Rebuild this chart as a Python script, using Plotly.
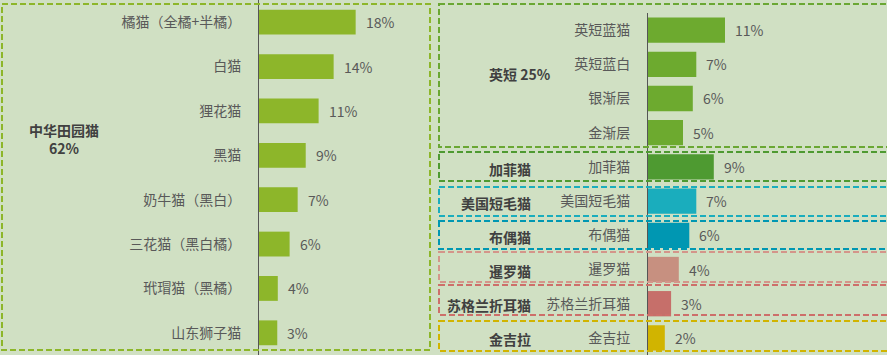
import plotly.graph_objects as go

W, H = 887, 355
FONT = "Noto Sans CJK SC, Noto Sans, sans-serif"
BG = "#D0E0C3"
TXT = "#595959"
BOLD = "#404040"

# ---- data: left panel (中华田园猫) ----
left_cats = ["橘猫（全橘+半橘）", "白猫", "狸花猫", "黑猫", "奶牛猫（黑白）",
             "三花猫（黑白橘）", "玳瑁猫（黑橘）", "山东狮子猫"]
left_vals = [18.0, 13.9, 11.1, 8.7, 7.2, 5.7, 3.5, 3.4]
left_labels = ["18%", "14%", "11%", "9%", "7%", "6%", "4%", "3%"]
left_group = "中华田园猫<br>62%"

# ---- data: right panel (other breeds) ----
right_cats = ["英短蓝猫", "英短蓝白", "银渐层", "金渐层", "加菲猫", "美国短毛猫",
              "布偶猫", "暹罗猫", "苏格兰折耳猫", "金吉拉"]
right_vals = [11.0, 6.9, 6.4, 5.0, 9.4, 6.9, 5.9, 4.4, 3.3, 2.4]
right_labels = ["11%", "7%", "6%", "5%", "9%", "7%", "6%", "4%", "3%", "2%"]
right_colors = ["#6DAA2F", "#6DAA2F", "#6DAA2F", "#6DAA2F", "#4E9A31", "#1AADBD",
                "#0097B2", "#C79080", "#C66F6A", "#D1B400"]

# group boxes on the right: name, first idx, last idx, border colour
groups = [("英短 25%", 0, 3, "#6AA733"),
          ("加菲猫", 4, 4, "#4E9A31"),
          ("美国短毛猫", 5, 5, "#1AADBD"),
          ("布偶猫", 6, 6, "#0097B2"),
          ("暹罗猫", 7, 7, "#D4958A"),
          ("苏格兰折耳猫", 8, 8, "#CD6F6A"),
          ("金吉拉", 9, 9, "#D1B400")]

fig = go.Figure()
fig.add_trace(go.Bar(y=left_cats, x=left_vals, orientation="h",
                     marker=dict(color="#8DB62A", line=dict(width=0)),
                     xaxis="x", yaxis="y", hoverinfo="skip", showlegend=False))
fig.add_trace(go.Bar(y=right_cats, x=right_vals, orientation="h",
                     marker=dict(color=right_colors, line=dict(width=0)),
                     xaxis="x2", yaxis="y2", hoverinfo="skip", showlegend=False,
                     width=0.74))

ann = []
for c, v, t in zip(left_cats, left_vals, left_labels):
    ann.append(dict(x=v, y=c, xref="x", yref="y", text=t, showarrow=False,
                    xanchor="left", xshift=8, font=dict(size=14, color=TXT, family=FONT)))
for c, v, t in zip(right_cats, right_vals, right_labels):
    ann.append(dict(x=v, y=c, xref="x2", yref="y2", text=t, showarrow=False,
                    xanchor="left", xshift=8, font=dict(size=14, color=TXT, family=FONT)))

def px(x):
    return x / W

def py(y):
    return 1 - y / H

# left group label
ann.append(dict(x=px(64), y=py(139), xref="paper", yref="paper", text="<b>" + left_group + "</b>",
                showarrow=False, xanchor="center", yanchor="middle", align="center",
                font=dict(size=14, color=BOLD, family=FONT)))

shapes = [dict(type="rect", xref="paper", yref="paper",
               x0=px(2), x1=px(430), y0=py(4), y1=py(350),
               line=dict(color="#8DB62A", width=2, dash="6px,3px"))]

# right boxes (pixel bounds)
box_px = [(4, 147), (152, 181), (187, 216), (221, 249), (252, 282), (285, 315), (321, 351)]
label_y = [74, 169, 203, 237, 271, 305, 339]
for (name, i0, i1, col), (b0, b1), ly in zip(groups, box_px, label_y):
    shapes.append(dict(type="rect", xref="paper", yref="paper",
                       x0=px(439), x1=px(900), y0=py(b0), y1=py(b1),
                       line=dict(color=col, width=2, dash="6px,3px")))
    if i0 == 0:
        ann.append(dict(x=px(520), y=py(ly), xref="paper", yref="paper", text="<b>" + name + "</b>",
                        showarrow=False, xanchor="center", yanchor="middle",
                        font=dict(size=14, color=BOLD, family=FONT)))
    else:
        ann.append(dict(x=px(533), y=py(ly), xref="paper", yref="paper", text="<b>" + name + "</b>",
                        showarrow=False, xanchor="right", yanchor="middle",
                        font=dict(size=14, color=BOLD, family=FONT)))

fig.update_layout(
    width=W, height=H, margin=dict(l=0, r=0, t=0, b=0),
    paper_bgcolor=BG, plot_bgcolor="rgba(0,0,0,0)",
    font=dict(family=FONT, size=14, color=TXT),
    bargap=0.44,
    xaxis=dict(domain=[px(259), px(430)], range=[0, 171 / 5.37], visible=False, fixedrange=True),
    yaxis=dict(domain=[0, 1], autorange="reversed", showline=True, linecolor="#555555", linewidth=1,
               ticks="", ticklabelstandoff=14, showgrid=False, zeroline=False,
               tickfont=dict(size=14, color=TXT, family=FONT), anchor="x"),
    xaxis2=dict(domain=[px(648), 1], range=[0, 239 / 7.0], visible=False, fixedrange=True, anchor="y2"),
    yaxis2=dict(domain=[0, py(13)], autorange="reversed", showline=True, linecolor="#555555", linewidth=1,
                ticks="", ticklabelstandoff=14, showgrid=False, zeroline=False,
                tickfont=dict(size=14, color=TXT, family=FONT), anchor="x2"),
    annotations=ann, shapes=shapes,
)
fig.write_html("out.html")
